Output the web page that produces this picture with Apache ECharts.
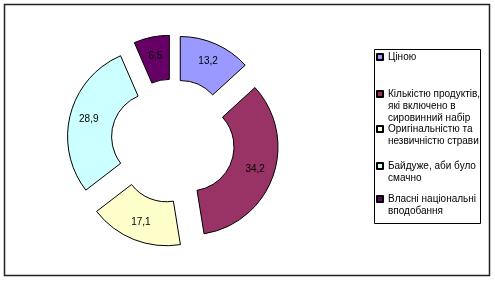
<!DOCTYPE html>
<html>
<head>
<meta charset="utf-8">
<script src="https://cdn.jsdelivr.net/npm/echarts@6/dist/echarts.min.js"></script>
<style>
html,body{margin:0;padding:0;background:#fff;}
#c{width:495px;height:282px;}
</style>
</head>
<body>
<div id="c"></div>
<script>
var categories = [
  'Ціною',
  'Кількістю продуктів,\nякі включено в\nсировинний набір',
  'Оригінальністю та\nнезвичністю страви',
  'Байдуже, аби було\nсмачно',
  'Власні національні\nвподобання'
];
var values = [13.2, 34.2, 17.1, 28.9, 6.5];
var colors = ['#9999FF', '#993366', '#FFFFCC', '#CCFFFF', '#660066'];

var legendFirstLineY = [57, 94, 129, 166, 199];
var LH = 12;

var chart = echarts.init(document.getElementById('c'), null, {renderer: 'canvas'});

function lineCount(name) { return name.split('\n').length; }

var legends = categories.map(function (name, i) {
  var n = lineCount(name);
  return {
    data: [name],
    orient: 'vertical',
    left: 376,
    top: legendFirstLineY[i] - (2 * n - 1) * LH / 2,
    padding: 0,
    itemWidth: 6,
    itemHeight: 6,
    selectedMode: false,
    icon: 'rect',
    formatter: function (nm) {
      var k = lineCount(nm);
      var pre = '';
      for (var j = 1; j < k; j++) pre += ' \n';
      return pre + nm;
    },
    textStyle: {
      fontFamily: 'Liberation Sans, Arial, sans-serif',
      fontSize: 10,
      lineHeight: LH,
      color: '#000'
    }
  };
});

var option = {
  animation: false,
  backgroundColor: '#fff',
  legend: legends,
  graphic: [
    {type: 'rect', shape: {x: 4.5, y: 4.5, width: 485, height: 271},
     style: {fill: 'none', stroke: '#222', lineWidth: 1.5}, silent: true},
    {type: 'rect', shape: {x: 374.5, y: 49.5, width: 106, height: 174},
     style: {fill: 'none', stroke: '#000', lineWidth: 1}, silent: true}
  ],
  series: [{
    type: 'pie',
    center: [173, 141],
    radius: [44, 88],
    startAngle: 90,
    clockwise: true,
    selectedMode: 'multiple',
    selectedOffset: 18,
    avoidLabelOverlap: false,
    emphasis: {disabled: true},
    itemStyle: {borderColor: '#000', borderWidth: 1},
    label: {
      show: true,
      position: 'inside',
      fontFamily: 'Liberation Sans, Arial, sans-serif',
      fontSize: 10,
      color: '#000',
      formatter: function (p) { return String(p.value).replace('.', ','); }
    },
    labelLine: {show: false},
    data: categories.map(function (name, i) {
      return {name: name, value: values[i], selected: true, itemStyle: {color: colors[i]}};
    })
  }]
};
chart.setOption(option);
</script>
</body>
</html>
